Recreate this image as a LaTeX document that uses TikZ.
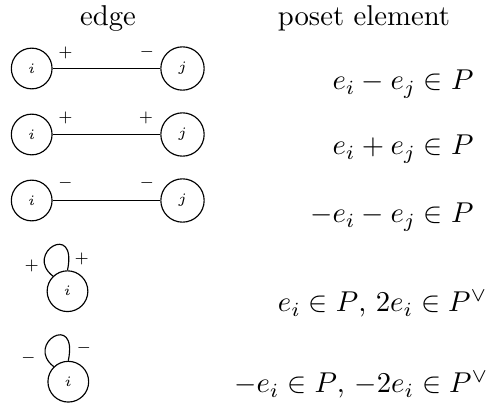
\documentclass[tikz,border=0pt]{standalone}
\begin{document}
\begin{tikzpicture}[x=0.3486pt,y=-0.3486pt,
  vert/.style={circle,draw,line width=0.4pt,minimum size=14.2pt,inner sep=0pt,font=\tiny},
  vertj/.style={vert,minimum size=15.1pt},
  sgn/.style={font=\tiny,inner sep=0pt},
  hdr/.style={anchor=base,inner sep=0pt},
  elt/.style={anchor=base east,inner sep=0pt},
  conn/.style={line width=0.4pt}]
\useasboundingbox (0,0) rectangle (490,411);
% headers
\node[hdr] (h1) at (108,25) {edge};
\node[hdr] (h2) at (364,25) {poset element};
% row 1
\node[vert]  (i1) at (31.7,68.5) {$i$};
\node[vertj] (j1) at (182.5,68.5) {$j$};
\draw[conn] (i1) -- (j1);
\node[sgn] (s1a) at (65.5,52.7) {$+$};
\node[sgn] (s1b) at (147,51.7) {$-$};
\node[elt] (t1) at (474,90) {$e_i-e_j\in P$};
% row 2
\node[vert]  (i2) at (31.7,134.5) {$i$};
\node[vertj] (j2) at (182.5,134.5) {$j$};
\draw[conn] (i2) -- (j2);
\node[sgn] (s2a) at (65.5,118) {$+$};
\node[sgn] (s2b) at (146,118) {$+$};
\node[elt] (t2) at (474,155) {$e_i+e_j\in P$};
% row 3
\node[vert]  (i3) at (31.7,200.5) {$i$};
\node[vertj] (j3) at (182.5,200.5) {$j$};
\draw[conn] (i3) -- (j3);
\node[sgn] (s3a) at (65.5,183) {$-$};
\node[sgn] (s3b) at (147,183) {$-$};
\node[elt] (t3) at (474,223) {$-e_i-e_j\in P$};
% row 4
\node[vert] (i4) at (67.5,291.2) {$i$};
\draw[conn] (i4.134) .. controls +(-29.3,-22.7) and +(10.3,-49.7) .. (i4.90);
\node[sgn] (s4a) at (31.7,266) {$+$};
\node[sgn] (s4b) at (81.8,259) {$+$};
\node[elt] (t4) at (488,312) {$e_i\in P$, $2e_i\in P^\vee$};
% row 5
\node[vert] (i5) at (68.3,381.7) {$i$};
\draw[conn] (i5.134) .. controls +(-29.3,-22.7) and +(10.3,-49.7) .. (i5.90);
\node[sgn] (s5a) at (28.3,357.7) {$-$};
\node[sgn] (s5b) at (83.8,348.3) {$-$};
\node[elt] (t5) at (489,393) {$-e_i\in P$, $-2e_i\in P^\vee$};
\end{tikzpicture}
\end{document}
